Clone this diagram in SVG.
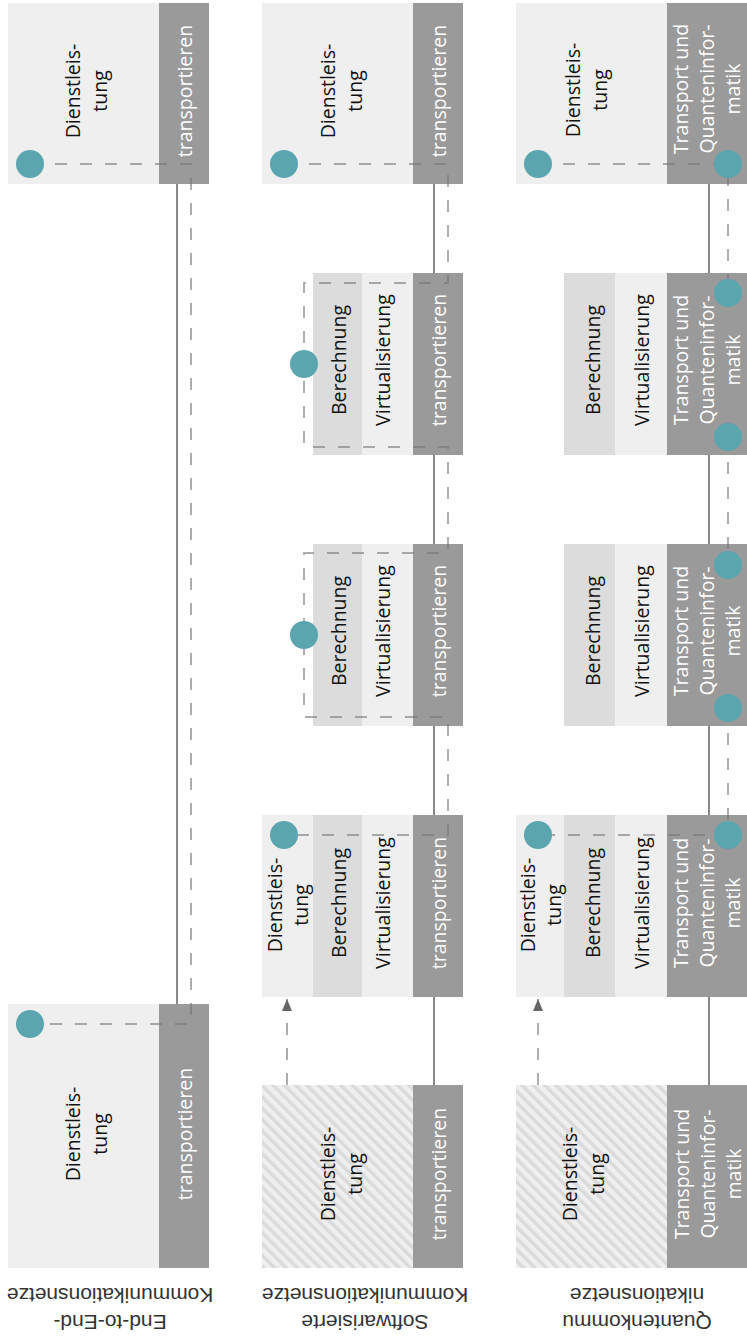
<svg xmlns="http://www.w3.org/2000/svg" width="747" height="1337" viewBox="0 0 747 1337">
<style>
.light{fill:#efefef}
.mid{fill:#dcdcdc}
.dark{fill:#9a9a9a}
.hatch{fill:url(#hatch)}
.t{font-family:"Open Sans","DejaVu Sans",sans-serif;font-size:19.5px;fill:#111;text-anchor:middle}
.w{fill:#ffffff}
.lbl{font-family:"Liberation Sans",Arial,sans-serif;font-size:21px;fill:#333;text-anchor:middle}
.solid{stroke:#888;stroke-width:2;fill:none}
.dash{stroke:#777;stroke-opacity:0.6;stroke-width:2;stroke-dasharray:12 13;fill:none}
.dot{fill:#5ba5ae}
</style>
<defs>
<pattern id="hatch" patternUnits="userSpaceOnUse" width="8" height="8" patternTransform="rotate(-45)">
<rect width="8" height="8" fill="#efefef"/>
<rect width="3.5" height="8" fill="#dadada"/>
</pattern>
<marker id="arr" viewBox="0 0 12 10" refX="12" refY="5" markerWidth="12" markerHeight="10" markerUnits="userSpaceOnUse" orient="auto">
<path d="M0,0 L12,5 L0,10 z" fill="#666"/>
</marker>
</defs>

<g id="n1a">
<rect class="light" x="8" y="3" width="151" height="181"/>
<rect class="dark" x="159" y="3" width="50" height="181"/>
<text class="t" transform="translate(80,91) rotate(-90)"><tspan x="0" dy="0">Dienstleis-</tspan><tspan x="0" dy="27">tung</tspan></text>
<text class="t w" transform="translate(192,91) rotate(-90)">transportieren</text>
</g>
<g id="n1b">
<rect class="light" x="8" y="1004" width="151" height="264"/>
<rect class="dark" x="159" y="1004" width="50" height="264"/>
<text class="t" transform="translate(80,1134) rotate(-90)"><tspan x="0" dy="0">Dienstleis-</tspan><tspan x="0" dy="27">tung</tspan></text>
<text class="t w" transform="translate(192,1134) rotate(-90)">transportieren</text>
</g>

<g id="n2a">
<rect class="light" x="262" y="3" width="151" height="181"/>
<rect class="dark" x="413" y="3" width="50" height="181"/>
<text class="t" transform="translate(335,91) rotate(-90)"><tspan x="0" dy="0">Dienstleis-</tspan><tspan x="0" dy="27">tung</tspan></text>
<text class="t w" transform="translate(446,91) rotate(-90)">transportieren</text>
</g>
<g id="n2b">
<rect class="mid" x="313" y="273" width="49" height="182"/>
<rect class="light" x="362" y="273" width="51" height="182"/>
<rect class="dark" x="413" y="273" width="50" height="182"/>
<text class="t" transform="translate(346,360) rotate(-90)">Berechnung</text>
<text class="t" transform="translate(390,360) rotate(-90)">Virtualisierung</text>
<text class="t w" transform="translate(446,360) rotate(-90)">transportieren</text>
</g>
<g id="n2c">
<rect class="mid" x="313" y="544" width="49" height="182"/>
<rect class="light" x="362" y="544" width="51" height="182"/>
<rect class="dark" x="413" y="544" width="50" height="182"/>
<text class="t" transform="translate(346,631) rotate(-90)">Berechnung</text>
<text class="t" transform="translate(390,631) rotate(-90)">Virtualisierung</text>
<text class="t w" transform="translate(446,631) rotate(-90)">transportieren</text>
</g>
<g id="n2d">
<rect class="light" x="262" y="815" width="51" height="182"/>
<rect class="mid" x="313" y="815" width="49" height="182"/>
<rect class="light" x="362" y="815" width="51" height="182"/>
<rect class="dark" x="413" y="815" width="50" height="182"/>
<text class="t" transform="translate(282,905) rotate(-90)"><tspan x="0" dy="0">Dienstleis-</tspan><tspan x="0" dy="26">tung</tspan></text>
<text class="t" transform="translate(346,903) rotate(-90)">Berechnung</text>
<text class="t" transform="translate(390,903) rotate(-90)">Virtualisierung</text>
<text class="t w" transform="translate(446,903) rotate(-90)">transportieren</text>
</g>
<g id="n2e">
<rect class="hatch" x="262" y="1085" width="151" height="183"/>
<rect class="dark" x="413" y="1085" width="50" height="183"/>
<text class="t" transform="translate(335,1174) rotate(-90)"><tspan x="0" dy="0">Dienstleis-</tspan><tspan x="0" dy="27">tung</tspan></text>
<text class="t w" transform="translate(446,1174) rotate(-90)">transportieren</text>
</g>

<g id="n3a">
<rect class="light" x="516" y="3" width="151" height="181"/>
<rect class="dark" x="667" y="3" width="80" height="181"/>
<text class="t" transform="translate(580,90) rotate(-90)"><tspan x="0" dy="0">Dienstleis-</tspan><tspan x="0" dy="27">tung</tspan></text>
<text class="t w" transform="translate(688,89) rotate(-90)"><tspan x="0" dy="0">Transport und</tspan><tspan x="0" dy="26">Quanteninfor-</tspan><tspan x="0" dy="26">matik</tspan></text>
</g>
<g id="n3b">
<rect class="mid" x="564" y="273" width="51" height="182"/>
<rect class="light" x="615" y="273" width="52" height="182"/>
<rect class="dark" x="667" y="273" width="80" height="182"/>
<text class="t" transform="translate(600,360) rotate(-90)">Berechnung</text>
<text class="t" transform="translate(649,360) rotate(-90)">Virtualisierung</text>
<text class="t w" transform="translate(688,360) rotate(-90)"><tspan x="0" dy="0">Transport und</tspan><tspan x="0" dy="26">Quanteninfor-</tspan><tspan x="0" dy="26">matik</tspan></text>
</g>
<g id="n3c">
<rect class="mid" x="564" y="544" width="51" height="182"/>
<rect class="light" x="615" y="544" width="52" height="182"/>
<rect class="dark" x="667" y="544" width="80" height="182"/>
<text class="t" transform="translate(600,631) rotate(-90)">Berechnung</text>
<text class="t" transform="translate(649,631) rotate(-90)">Virtualisierung</text>
<text class="t w" transform="translate(688,631) rotate(-90)"><tspan x="0" dy="0">Transport und</tspan><tspan x="0" dy="26">Quanteninfor-</tspan><tspan x="0" dy="26">matik</tspan></text>
</g>
<g id="n3d">
<rect class="light" x="516" y="815" width="48" height="182"/>
<rect class="mid" x="564" y="815" width="51" height="182"/>
<rect class="light" x="615" y="815" width="52" height="182"/>
<rect class="dark" x="667" y="815" width="80" height="182"/>
<text class="t" transform="translate(535,905) rotate(-90)"><tspan x="0" dy="0">Dienstleis-</tspan><tspan x="0" dy="26">tung</tspan></text>
<text class="t" transform="translate(600,903) rotate(-90)">Berechnung</text>
<text class="t" transform="translate(649,903) rotate(-90)">Virtualisierung</text>
<text class="t w" transform="translate(688,903) rotate(-90)"><tspan x="0" dy="0">Transport und</tspan><tspan x="0" dy="26">Quanteninfor-</tspan><tspan x="0" dy="26">matik</tspan></text>
</g>
<g id="n3e">
<rect class="hatch" x="516" y="1085" width="151" height="183"/>
<rect class="dark" x="667" y="1085" width="80" height="183"/>
<text class="t" transform="translate(577,1174) rotate(-90)"><tspan x="0" dy="0">Dienstleis-</tspan><tspan x="0" dy="27">tung</tspan></text>
<text class="t w" transform="translate(689,1174) rotate(-90)"><tspan x="0" dy="0">Transport und</tspan><tspan x="0" dy="26">Quanteninfor-</tspan><tspan x="0" dy="26">matik</tspan></text>
</g>

<g id="connectors">
<path class="solid" d="M177,184 V1004"/>
<path class="solid" d="M434,184 V273 M434,455 V544 M434,726 V815 M434,997 V1085"/>
<path class="solid" d="M709,184 V273 M709,455 V544 M709,726 V815 M709,997 V1085"/>
<path class="dash" d="M30,164 H191 V1024 H30"/>
<path class="dash" d="M284,164 H448 V283 H304 V447 H448 V553 H304 V717 H448 V835 H284"/>
<path class="dash" d="M538,164 H728 V293 M728,437 V565 M728,708 V835 H538"/>
<path class="dash" d="M287,1085 V999" marker-end="url(#arr)"/>
<path class="dash" d="M538,1085 V999" marker-end="url(#arr)"/>
</g>

<g id="dots">
<circle class="dot" cx="30" cy="164" r="14"/>
<circle class="dot" cx="30" cy="1024" r="14"/>
<circle class="dot" cx="284" cy="164" r="14"/>
<circle class="dot" cx="304" cy="364" r="14"/>
<circle class="dot" cx="304" cy="635" r="14"/>
<circle class="dot" cx="284" cy="835" r="14"/>
<circle class="dot" cx="538" cy="164" r="14"/>
<circle class="dot" cx="728" cy="164" r="14"/>
<circle class="dot" cx="728" cy="293" r="14"/>
<circle class="dot" cx="728" cy="437" r="14"/>
<circle class="dot" cx="728" cy="565" r="14"/>
<circle class="dot" cx="728" cy="708" r="14"/>
<circle class="dot" cx="538" cy="835" r="14"/>
<circle class="dot" cx="728" cy="835" r="14"/>
</g>

<g id="labels">
<g transform="rotate(180 110 1308)"><text class="lbl" x="110" y="1301">End-to-End-</text><text class="lbl" x="110" y="1328">Kommunikationsnetze</text></g>
<g transform="rotate(180 365 1308)"><text class="lbl" x="365" y="1301">Softwarisierte</text><text class="lbl" x="365" y="1328">Kommunikationsnetze</text></g>
<g transform="rotate(180 637 1308)"><text class="lbl" x="637" y="1301">Quantenkommu</text><text class="lbl" x="637" y="1328">nikationsnetze</text></g>
</g>
</svg>
